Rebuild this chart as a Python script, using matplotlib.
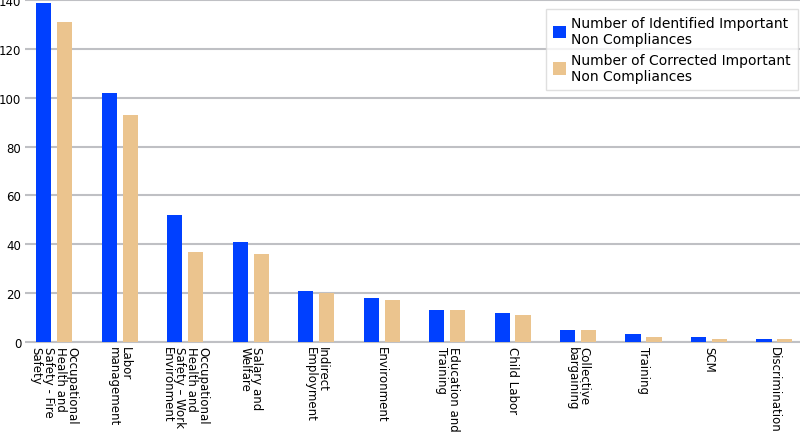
import numpy as np
import matplotlib
matplotlib.use("Agg")
import matplotlib.pyplot as plt

categories = [
    "Occupational\nHealth and\nSafety - Fire\nSafety",
    "Labor\nmanagement",
    "Occupational\nHealth and\nSafety – Work\nEnvironment",
    "Salary and\nWelfare",
    "Indirect\nEmployment",
    "Environment",
    "Education and\nTraining",
    "Child Labor",
    "Collective\nbargaining",
    "Training",
    "SCM",
    "Discrimination",
]
identified = [139, 102, 52, 41, 21, 18, 13, 12, 5, 3, 2, 1]
corrected = [131, 93, 37, 36, 20, 17, 13, 11, 5, 2, 1, 1]
y_ticks = [0, 20, 40, 60, 80, 100, 120, 140]

BLUE = "#0040ff"
TAN = "#ebc48e"
GRID = "#bfc0c4"

plt.rcParams["font.family"] = ["DejaVu Sans"]

fig = plt.figure(figsize=(8, 4.35), dpi=100)
ax = fig.add_axes([0.044, 0.212, 0.956, 0.785])

x = np.arange(len(categories))
w = 0.23
off = 0.16
ax.bar(x - off, identified, w, color=BLUE, label="Number of Identified Important\nNon Compliances", zorder=3)
ax.bar(x + off, corrected, w, color=TAN, label="Number of Corrected Important\nNon Compliances", zorder=3)

ax.set_xlim(-0.29, 11.39)
ax.set_ylim(0, 140)
ax.set_yticks(y_ticks)
ax.set_xticks(x)
ax.set_xticklabels(categories, rotation=270, ha="center", va="top",
                   fontsize=8.5, linespacing=0.9, multialignment="left")
ax.tick_params(axis="x", length=0, pad=3, colors="black")
ax.tick_params(axis="y", length=7, width=1.5, color=GRID, labelcolor="black",
               labelsize=8.5, pad=3)

for s in ["top", "right", "left"]:
    ax.spines[s].set_visible(False)
ax.spines["bottom"].set_color(GRID)
ax.spines["bottom"].set_linewidth(1.5)
ax.yaxis.grid(True, color=GRID, linewidth=1.5, zorder=0)
ax.set_axisbelow(True)

leg = ax.legend(loc="upper right", bbox_to_anchor=(0.9975, 0.976), fontsize=10,
                frameon=True, fancybox=False, handlelength=0.9, handleheight=1.0,
                handletextpad=0.35, labelspacing=0.45, borderpad=0.55, borderaxespad=0)
leg.get_frame().set_edgecolor("#d8d8d8")
leg.get_frame().set_linewidth(1.0)

fig.savefig("out.png", dpi=100)
